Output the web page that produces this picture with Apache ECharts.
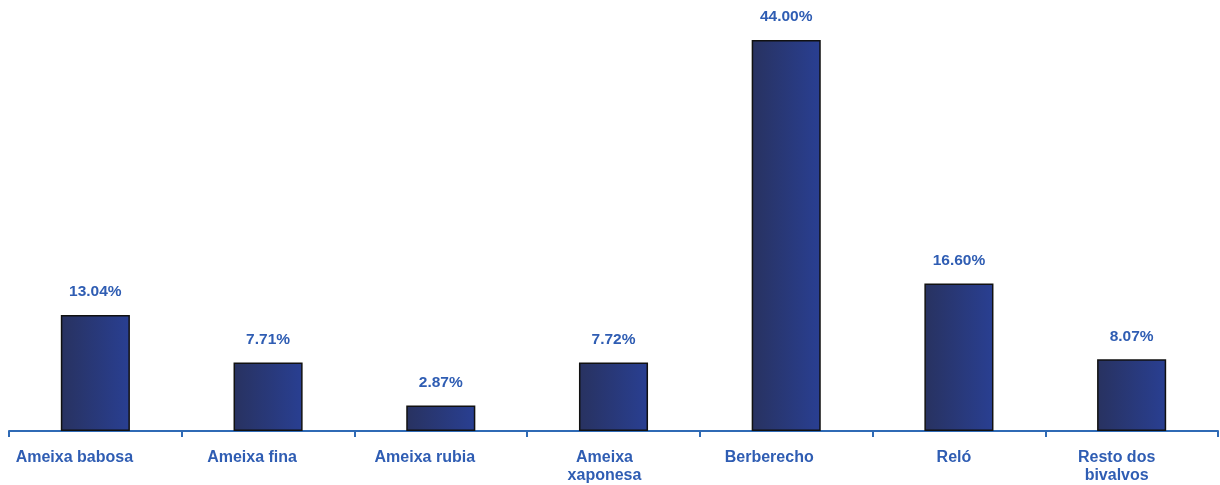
<!DOCTYPE html>
<html><head><meta charset="utf-8">
<script src="https://cdn.jsdelivr.net/npm/echarts@6/dist/echarts.min.js"></script>
<style>html,body{margin:0;padding:0;background:#fff}#c{width:1220px;height:485px}</style>
</head><body><div id="c"></div>
<script>
const categories = ['Ameixa babosa', 'Ameixa fina', 'Ameixa rubia', 'Ameixa\nxaponesa', 'Berberecho', 'Reló', 'Resto dos\nbivalvos'];
const values = [13.04, 7.71, 2.87, 7.72, 44.00, 16.60, 8.07];

// layout only: right padding that nudges each category label left as in the reference
const labelPadRight = [42, 32, 32, 18, 34, 10, 30];

const chart = echarts.init(document.getElementById('c'));
const blue = '#2F5DB3';
const font = 'Liberation Sans, Arial, sans-serif';
chart.setOption({
  animation: false,
  grid: { left: 9, right: 2, top: 40, bottom: 52, containLabel: false },
  xAxis: {
    type: 'category',
    data: categories.map((c, i) => ({ value: c, textStyle: { padding: [0, labelPadRight[i], 0, 0] } })),
    boundaryGap: true,
    axisLine: { lineStyle: { color: '#2F6AB5', width: 2 } },
    axisTick: { show: true, length: 6, lineStyle: { color: '#2F6AB5', width: 2 } },
    axisLabel: { color: blue, fontFamily: font, fontWeight: 'bold', fontSize: 16, margin: 18, lineHeight: 18, interval: 0 }
  },
  yAxis: { type: 'value', min: 0, max: 44, show: false, splitLine: { show: false } },
  series: [{
    type: 'bar', data: values, barWidth: '40%',
    itemStyle: {
      color: new echarts.graphic.LinearGradient(0, 0, 1, 0, [
        { offset: 0, color: '#283260' },
        { offset: 1, color: '#293F92' }
      ]),
      borderColor: '#111', borderWidth: 1.5
    },
    label: {
      show: true, position: 'top', distance: 15,
      formatter: p => p.value.toFixed(2) + '%',
      color: blue, fontFamily: font, fontWeight: 'bold', fontSize: 15.5
    }
  }]
});
</script></body></html>
